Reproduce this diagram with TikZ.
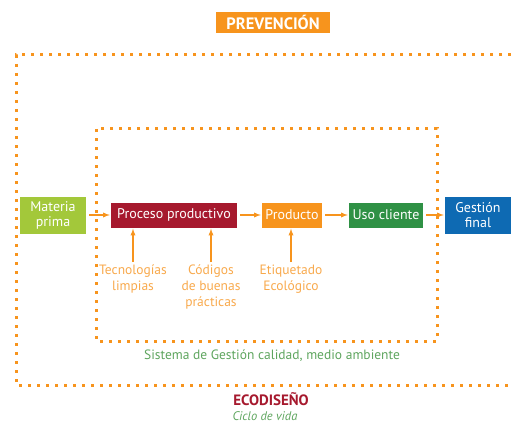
\documentclass[tikz,border=0pt]{standalone}
\usepackage{fontspec}
\setmainfont{PT Sans}
\definecolor{naranja}{HTML}{F7941D}
\definecolor{naranjaclaro}{HTML}{F8A94C}
\definecolor{verdeclaro}{HTML}{A3C83A}
\definecolor{verde}{HTML}{2F9145}
\definecolor{rojo}{HTML}{A6192E}
\definecolor{azul}{HTML}{0E6AB3}
\definecolor{verdetexto}{HTML}{5EA55E}

\begin{document}
\begin{tikzpicture}[x = 1pt, y = -1pt, > = latex, font = \fontsize{13.5}{16}\selectfont]
\tikzset{
  block/.style = {fill = #1, text = white, rectangle, inner sep = 0pt, minimum height = 25pt, align = center, font = \fontsize{14}{16}\selectfont},
  tall/.style = {minimum height = 37pt, font = \fontsize{14}{15}\selectfont},
  note/.style = {text = naranjaclaro, align = center, inner sep = 0pt, anchor = north},
  flow/.style = {->, draw = naranja, line width = 1.3pt, shorten <= 3pt, shorten >= 1pt},
  dotline/.style = {draw = naranja, line width = 3pt, dash pattern = on 3pt off 6pt},
}
\useasboundingbox (0,0) rectangle (511,425);
\node [block = naranja, font = \fontsize{16.5}{18}\selectfont\bfseries, minimum width = 114pt, minimum height = 21pt] (prevencion) at (273,22.5) {PREVENCIÓN};
\draw [dotline] (511,55) -- (16,55) -- (16,385) -- (511,385);
\draw [dotline] (96,129) rectangle (437,341);
\node [block = verdeclaro, tall, minimum width = 66pt] (materia) at (53,215) {Materia\\prima};
\node [block = rojo, minimum width = 126pt, right of = materia, node distance = 121pt] (proceso) {Proceso productivo};
\node [block = naranja, minimum width = 60pt, right of = proceso, node distance = 118pt] (producto) {Producto};
\node [block = verde, minimum width = 74pt, right of = producto, node distance = 94pt] (uso) {Uso cliente};
\node [block = azul, tall, minimum width = 66pt, right of = uso, node distance = 92pt] (gestion) {Gestión\\final};
\node [note] (tecnologias) at (133,265) {Tecnologías\\limpias};
\node [note] (codigos) at (211,265) {Códigos\\de buenas\\prácticas};
\node [note] (etiquetado) at (291,265) {Etiquetado\\Ecológico};
\draw [flow] (materia) -- (proceso);
\draw [flow] (proceso) -- (producto);
\draw [flow] (producto) -- (uso);
\draw [flow] (uso) -- (gestion);
\draw [flow] (tecnologias.north) -- (tecnologias.north |- proceso.south);
\draw [flow] (codigos.north) -- (codigos.north |- proceso.south);
\draw [flow] (etiquetado.north) -- (etiquetado.north |- producto.south);
\node [text = verdetexto] (sistema) at (272,356) {Sistema de Gestión calidad, medio ambiente};
\node [text = rojo, font = \fontsize{15}{16}\selectfont\bfseries] (ecodiseno) at (271,399) {ECODISEÑO};
\node [text = verdetexto, font = \fontsize{12.5}{14}\selectfont\itshape] (ciclo) at (265,416) {Ciclo de vida};
\end{tikzpicture}
\end{document}
